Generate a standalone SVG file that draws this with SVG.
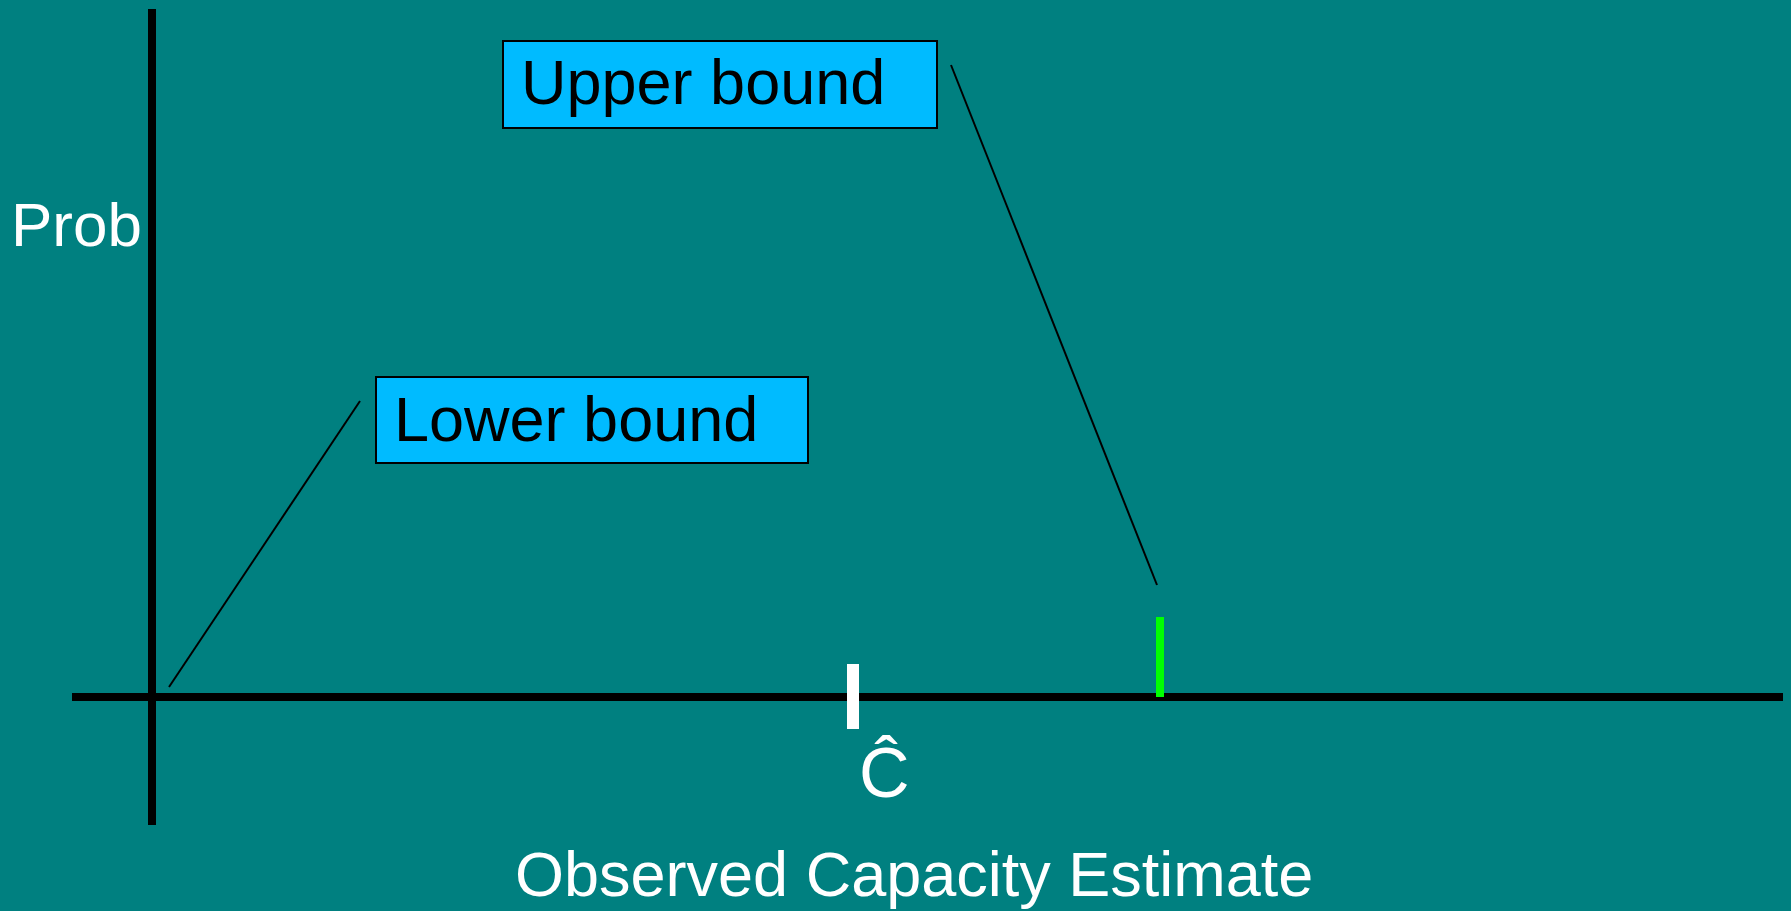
<svg xmlns="http://www.w3.org/2000/svg" width="1791" height="911" viewBox="0 0 1791 911">
<style>
.lbl{font-family:"Liberation Sans",Arial,sans-serif;font-size:63px}
.w{fill:#ffffff}
.k{fill:#000000}
.box{fill:#00BBFF;stroke:#000000;stroke-width:2}
.ax{stroke:#000000;stroke-width:8}
.conn{stroke:#000000;stroke-width:2;fill:none}
</style>
<rect x="0" y="0" width="1791" height="911" fill="#008080"/>
<g id="axes">
<line class="ax" x1="152" y1="9" x2="152" y2="825"/>
<line class="ax" x1="72" y1="697" x2="1783" y2="697"/>
</g>
<g id="connectors">
<line class="conn" x1="169" y1="687" x2="360" y2="401"/>
<line class="conn" x1="951" y1="65" x2="1157" y2="585"/>
</g>
<g id="upper-bound">
<rect class="box" x="503" y="41" width="434" height="87"/>
<text class="lbl k" x="521" y="104">Upper bound</text>
</g>
<g id="lower-bound">
<rect class="box" x="376" y="377" width="432" height="86"/>
<text class="lbl k" x="394" y="441">Lower bound</text>
</g>
<g id="ticks">
<rect x="847" y="664" width="12" height="65" fill="#ffffff"/>
<rect x="1156" y="617" width="8" height="80" fill="#00FF00"/>
</g>
<g id="labels">
<text class="lbl w" x="11" y="246" style="font-size:62px">Prob</text>
<text class="lbl w" x="859" y="797" style="font-size:70px">Ĉ</text>
<text class="lbl w" x="515" y="896">Observed Capacity Estimate</text>
</g>
</svg>
